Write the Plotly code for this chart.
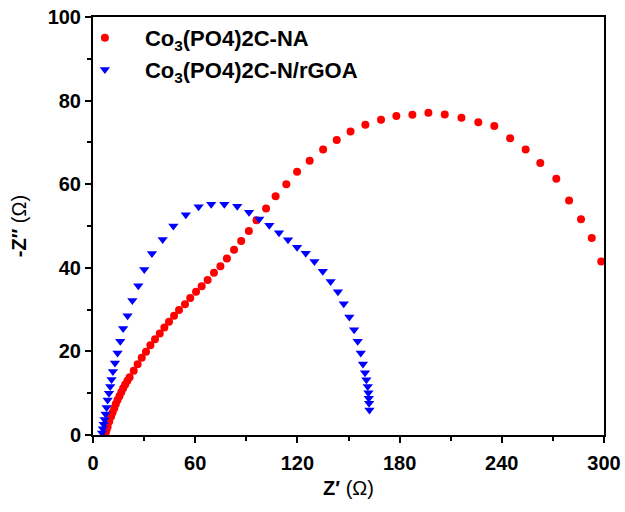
import plotly.graph_objects as go

# Co3(PO4)2C-NA (red circles)
na_x = [7.2, 7.6, 8.0, 8.6, 9.5, 10.6, 11.5, 12.5, 13.4, 14.4, 15.5, 16.6, 17.7, 18.9, 20.2,
        21.5, 23.9, 26.2, 28.6, 31.1, 33.7, 36.4, 39.2, 41.9, 44.6, 47.6, 50.5, 54.0,
        57.1, 60.5, 63.8, 67.3, 71.0, 74.8, 78.6, 82.8, 87.0, 91.5, 96.0, 101.6, 107.2,
        113.5, 119.8, 127.2, 135.1, 143.1, 151.2, 159.9, 169.1, 178.1, 187.5, 196.9,
        206.5, 216.3, 226.2, 235.6, 244.9, 254.0, 262.6, 272.0, 279.5, 286.5, 292.8, 298.4]
na_y = [0.3, 0.8, 1.3, 2.0, 3.2, 4.4, 5.4, 6.4, 7.4, 8.4, 9.3, 10.2, 11.2, 12.1, 13.0,
        13.8, 15.4, 16.9, 18.5, 19.9, 21.5, 22.9, 24.3, 25.7, 27.1, 28.5, 29.9, 31.3,
        32.8, 34.3, 35.6, 37.1, 38.8, 40.4, 42.2, 44.3, 46.4, 48.8, 51.4, 54.2, 57.1,
        60.0, 63.0, 65.6, 68.3, 70.6, 72.6, 74.2, 75.4, 76.3, 76.6, 77.1,
        76.7, 75.9, 74.8, 73.9, 71.0, 68.3, 65.1, 61.3, 56.1, 51.6, 47.1, 41.5]

# Co3(PO4)2C-N/rGOA (blue triangles)
go_x = [5.3, 5.8, 6.3, 6.8, 7.4, 8.0, 8.6, 9.4, 10.1, 10.9, 11.7, 12.9, 14.4, 16.0, 17.7,
        20.3, 23.1, 26.6, 30.1, 34.6, 40.9, 47.2, 54.5, 62.0, 69.4, 77.1, 84.7, 91.6,
        97.6, 103.5, 109.2, 114.5, 119.8, 124.9, 130.0, 134.9, 139.5, 143.8, 147.2,
        150.5, 153.3, 155.4, 157.2, 158.5, 159.7, 160.5, 161.3, 161.7, 161.9, 162.1, 162.3]
go_y = [0.5, 1.5, 2.6, 3.7, 5.0, 6.6, 8.4, 10.0, 11.6, 13.3, 15.2, 17.2, 19.6, 22.4, 25.5,
        28.5, 32.2, 35.7, 39.6, 43.4, 46.8, 50.0, 52.7, 54.6, 55.2, 55.2, 54.7, 53.3,
        51.7, 50.2, 48.4, 46.7, 44.9, 43.5, 41.5, 39.2, 36.7, 34.3, 31.4,
        28.2, 25.2, 22.4, 19.6, 17.0, 14.9, 13.2, 11.6, 10.1, 8.8, 7.6, 6.0]

labels = ["Co<sub>3</sub>(PO4)2C-NA", "Co<sub>3</sub>(PO4)2C-N/rGOA"]
x_ticks = [0, 60, 120, 180, 240, 300]
y_ticks = [0, 20, 40, 60, 80, 100]

fig = go.Figure()
fig.add_trace(go.Scatter(x=na_x, y=na_y, mode="markers", name=labels[0],
                         marker=dict(symbol="circle", size=8, color="#ff0000")))
fig.add_trace(go.Scatter(x=go_x, y=go_y, mode="markers", name=labels[1],
                         marker=dict(symbol="triangle-down", size=9, color="#0000ff")))

font_family = "Liberation Sans, Arial, sans-serif"
axis_common = dict(showline=True, linewidth=2, linecolor="black", mirror=True,
                   ticks="outside", ticklen=6, tickwidth=2, tickcolor="black",
                   showgrid=False, zeroline=False, automargin=False,
                   tickfont=dict(family=font_family, size=20, color="black", weight="bold"))

fig.update_layout(
    width=625, height=512,
    margin=dict(l=93, r=21, t=17, b=77),
    paper_bgcolor="white", plot_bgcolor="white",
    font=dict(family=font_family, color="black"),
    showlegend=True,
    legend=dict(x=-0.055, y=1.0, xanchor="left", yanchor="top",
                bgcolor="rgba(0,0,0,0)", borderwidth=0, itemwidth=70,
                font=dict(family=font_family, size=22, color="black", weight="bold"),
                tracegroupgap=0),
)
fig.update_xaxes(range=[0, 300], tickvals=x_ticks, ticklabelstandoff=3,
                 minor=dict(ticks="outside", ticklen=4, tickwidth=2, tickcolor="black", dtick=30, tick0=0),
                 title=dict(text="<b>Z′</b> (Ω)", font=dict(family=font_family, size=20), standoff=8),
                 **axis_common)
fig.update_yaxes(range=[0, 100], tickvals=y_ticks,
                 minor=dict(ticks="outside", ticklen=4, tickwidth=2, tickcolor="black", dtick=10, tick0=0),
                 title=dict(text="<b>-Z″</b> (Ω)", font=dict(family=font_family, size=20), standoff=16),
                 **axis_common)

fig.write_html("out.html")
